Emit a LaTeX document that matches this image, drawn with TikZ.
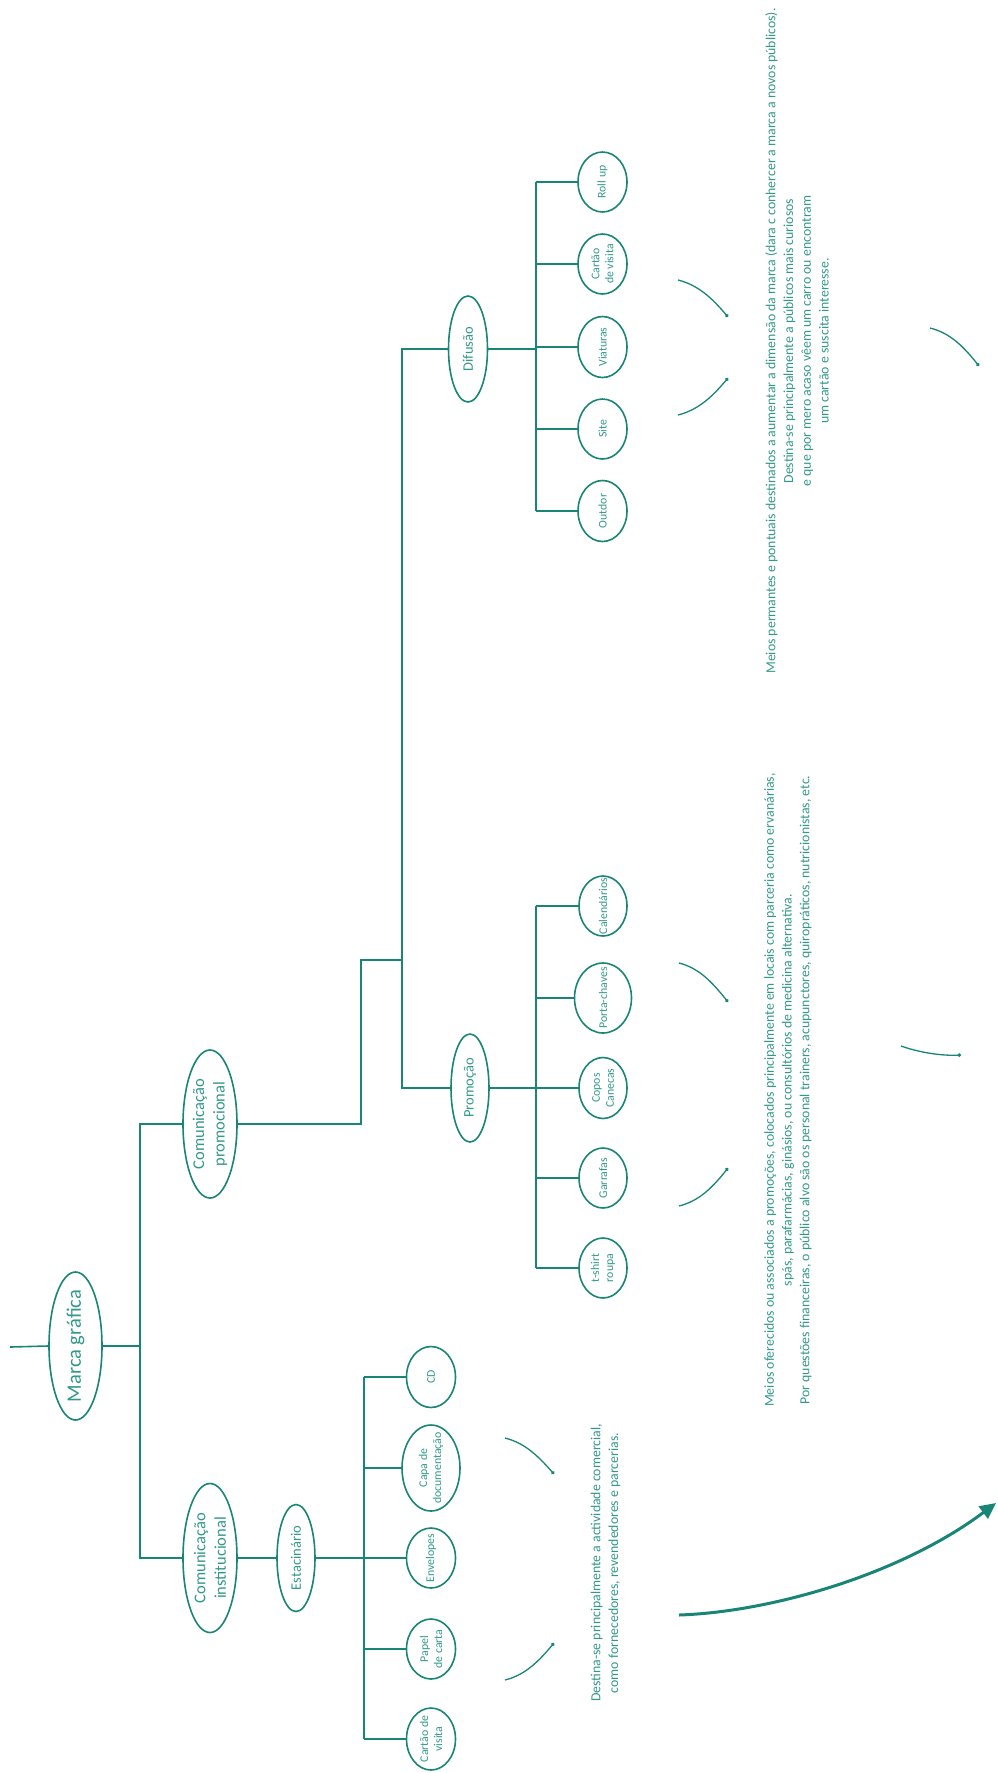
\documentclass[tikz,border=0pt]{standalone}
\usepackage{fontspec}
\setmainfont{Carlito}
\usetikzlibrary{shapes.geometric,arrows.meta}
\definecolor{tealline}{RGB}{24,133,118}
\definecolor{tealtext}{RGB}{50,152,138}
\begin{document}
\begin{tikzpicture}[x=1pt,y=-1pt,
  ell/.style 2 args={draw=tealline, line width=1.6pt, shape=ellipse, minimum width=#1, minimum height=#2, inner sep=0pt, rotate=90},
  lbl/.style={rotate=90, align=center, inner sep=0pt, text=tealtext},
  fbig/.style={lbl, font=\fontsize{20.5}{24}\selectfont},
  fmid/.style={lbl, font=\fontsize{16.5}{20.5}\selectfont},
  fsub/.style={lbl, font=\fontsize{14.5}{17}\selectfont},
  fsm/.style={lbl, font=\fontsize{11.8}{14}\selectfont},
  desc/.style={rotate=90, align=center, inner sep=0pt, text=tealtext, font=\fontsize{13.8}{17.8}\selectfont},
  conn/.style={draw=tealline, line width=1.6pt},
  arcline/.style={draw=tealline, line width=1.3pt, -{Circle[length=3.5pt]}},
  bigarrow/.style={draw=tealline, line width=3pt, -{Triangle[length=16pt,width=15pt]}}
]
\useasboundingbox (0,0) rectangle (997,1773);

% ---------- root ----------
\node[ell={148pt}{53pt}, label={[fbig]center:Marca gráfica}] (marca) at (75.5,1346) {};
\node[ell={148pt}{54pt}, label={[fmid]center:{Comunicação\\promocional}}] (promo) at (210,1124) {};
\node[ell={149pt}{54pt}, label={[fmid]center:{Comunicação\\institucional}}] (inst) at (210,1558) {};
\node[ell={107pt}{38pt}, label={[fsub]center:Estacinário}] (estac) at (296,1558) {};

% Estacinário children
\node[ell={61pt}{49pt}, label={[fsm]center:CD}] (cd) at (431,1377) {};
\node[ell={86pt}{58pt}, label={[fsm]center:{Capa de\\documentação}}] (capa) at (431,1468) {};
\node[ell={60pt}{49pt}, label={[fsm]center:Envelopes}] (env) at (431,1558) {};
\node[ell={60pt}{49pt}, label={[fsm]center:{Papel\\de carta}}] (papel) at (431,1649) {};
\node[ell={62pt}{49pt}, label={[fsm]center:{Cartão de\\visita}}] (cvis) at (431,1739) {};

% Difusão & Promoção
\node[ell={106pt}{39pt}, label={[fsub]center:Difusão}] (difu) at (468,349) {};
\node[ell={108pt}{38pt}, label={[fsub]center:Promoção}] (prom) at (470,1088) {};

% Difusão children
\node[ell={60pt}{49pt}, label={[fsm]center:Roll up}] (roll) at (602.5,182) {};
\node[ell={60pt}{49pt}, label={[fsm]center:{Cartão\\de visita}}] (cdv) at (602.5,264) {};
\node[ell={61pt}{49pt}, label={[fsm]center:Viaturas}] (viat) at (602.5,347) {};
\node[ell={60pt}{49pt}, label={[fsm]center:Site}] (site) at (602.5,429) {};
\node[ell={61pt}{49pt}, label={[fsm]center:Outdor}] (outd) at (602.5,511) {};

% Promoção children
\node[ell={60pt}{48pt}, label={[fsm]center:Calendários}] (cal) at (603,906) {};
\node[ell={70pt}{57pt}, label={[fsm]center:Porta-chaves}] (porta) at (603,998) {};
\node[ell={61pt}{48pt}, label={[fsm]center:{Copos\\Canecas}}] (copos) at (603,1088) {};
\node[ell={60pt}{48pt}, label={[fsm]center:Garrafas}] (garr) at (603,1178) {};
\node[ell={60pt}{48pt}, label={[fsm]center:{t-shirt\\roupa}}] (tsh) at (603,1268) {};

% ---------- connectors ----------
\coordinate (stub) at (10,1347);
\coordinate (v1) at (140,0);
\coordinate (v2) at (364,0);
\coordinate (p1) at (361,960);
\coordinate (v3) at (402,0);
\coordinate (v4) at (536,0);

\draw[conn] (stub) -- (marca.north);
\draw[conn] (marca.south) -- (marca.south -| v1);
\draw[conn] (promo.north) -- (promo.north -| v1) -- (inst.north -| v1) -- (inst.north);
\draw[conn] (inst.south) -- (estac.north);
\draw[conn] (estac.south) -- (estac.south -| v2);
\draw[conn] (cd.north -| v2) -- (cvis.north -| v2);
\foreach \n in {cd,capa,env,papel,cvis} \draw[conn] (\n.north -| v2) -- (\n.north);

\draw[conn] (promo.south) -- (promo.south -| p1) -- (p1) -- (p1 -| v3);
\draw[conn] (difu.north) -- (difu.north -| v3) -- (prom.north -| v3) -- (prom.north);

\draw[conn] (difu.south) -- (difu.south -| v4);
\draw[conn] (roll.north -| v4) -- (outd.north -| v4);
\foreach \n in {roll,cdv,viat,site,outd} \draw[conn] (\n.north -| v4) -- (\n.north);

\draw[conn] (prom.south) -- (prom.south -| v4);
\draw[conn] (cal.north -| v4) -- (tsh.north -| v4);
\foreach \n in {cal,porta,copos,garr,tsh} \draw[conn] (\n.north -| v4) -- (\n.north);

% ---------- descriptions ----------
\node[desc] (dest) at (605.5,1563) {Destina-se principalmente a actividade comercial,\\como fornecedores, revendedores e parcerias.};
\node[desc] (ofer) at (788,1090) {Meios oferecidos ou associados a promoções, colocados principalmente em locais com parceria como ervanárias,\\spás, parafarmácias, ginásios, ou consultórios de medicina alternativa.\\Por questões financeiras, o público alvo são os personal trainers, acupunctores, quiropráticos, nutricionistas, etc.};
\node[desc] (perm) at (797,341) {Meios permantes e pontuais destinados a aumentar a dimensão da marca (dara c conhercer a marca a novos públicos).\\Destina-se principalmente a públicos mais curiosos\\e que por mero acaso vêem um carro ou encontram\\um cartão e suscita interesse.};

% ---------- decorative arcs ----------
% Destina
\coordinate (a1s) at (505,1438); \coordinate (a1e) at (554,1474);
\coordinate (a2s) at (505,1680); \coordinate (a2e) at (554,1643);
\draw[arcline] (a1s) .. controls (525,1443) and (538,1456) .. (a1e);
\draw[arcline] (a2s) .. controls (525,1675) and (538,1662) .. (a2e);
% Promoção
\coordinate (b1s) at (679,963); \coordinate (b1e) at (728,1002);
\coordinate (b2s) at (679,1206); \coordinate (b2e) at (728,1168);
\coordinate (b3s) at (901,1046); \coordinate (b3e) at (961,1055);
\draw[arcline] (b1s) .. controls (699,968) and (712,982) .. (b1e);
\draw[arcline] (b2s) .. controls (699,1201) and (712,1188) .. (b2e);
\draw[arcline] (b3s) .. controls (918,1052) and (940,1056) .. (b3e);
% Difusão
\coordinate (c1s) at (678,280); \coordinate (c1e) at (728,317);
\coordinate (c2s) at (678,415); \coordinate (c2e) at (728,378);
\coordinate (c3s) at (930,328); \coordinate (c3e) at (979,366);
\draw[arcline] (c1s) .. controls (698,285) and (712,298) .. (c1e);
\draw[arcline] (c2s) .. controls (698,410) and (712,397) .. (c2e);
\draw[arcline] (c3s) .. controls (950,333) and (963,346) .. (c3e);

% big arrow
\coordinate (ba1) at (679,1615); \coordinate (ba2) at (996,1503);
\draw[bigarrow] (ba1) .. controls (770,1612) and (900,1575) .. (ba2);
\end{tikzpicture}
\end{document}
